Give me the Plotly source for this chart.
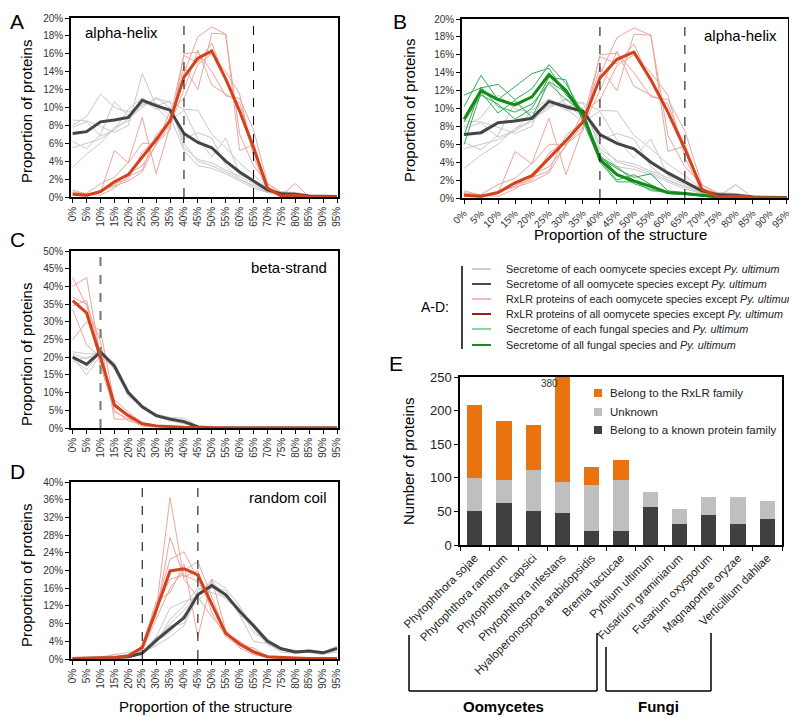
import plotly.graph_objects as go

# The page body has an 8px default margin, so the figure is 8px smaller and
# every pixel coordinate below is shifted accordingly.
OFF = 8
W, H = 797 - OFF, 717 - OFF
def px(x): return (x - OFF) / W
def py(y): return 1 - (y - OFF) / H

FONT = "Arial, Liberation Sans, sans-serif"

# ---------------- data ----------------
x_labels = ["0%", "5%", "10%", "15%", "20%", "25%", "30%", "35%", "40%", "45%",
            "50%", "55%", "60%", "65%", "70%", "75%", "80%", "85%", "90%", "95%"]

# alpha-helix (A, B)
helix_oom_each = [
    [8.6, 8.5, 7.9, 7.2, 8.0, 13.8, 10.2, 10.7, 5.5, 4.2, 3.8, 3.0, 2.3, 1.5, 0.6, 0.3, 0.2, 0.1, 0, 0],
    [8.0, 9.0, 11.5, 10.0, 9.5, 10.2, 11.0, 10.6, 9.8, 9.7, 7.0, 5.5, 3.8, 2.5, 1.0, 0.5, 0.4, 0.1, 0, 0],
    [6.2, 5.4, 7.0, 10.7, 9.0, 10.8, 9.8, 10.0, 6.5, 7.2, 6.6, 3.5, 2.0, 1.2, 0.6, 0.3, 0.2, 0.1, 0, 0],
    [5.5, 6.0, 6.5, 7.5, 8.8, 10.0, 11.1, 10.0, 6.0, 4.0, 3.5, 2.8, 2.0, 1.3, 0.5, 0.3, 0.2, 0.1, 0, 0],
    [3.3, 4.8, 6.0, 7.8, 8.5, 10.4, 10.5, 9.0, 5.2, 3.5, 3.2, 2.6, 1.8, 1.0, 0.5, 0.2, 0.1, 0, 0, 0],
    [7.8, 8.4, 6.8, 7.5, 9.8, 11.1, 10.0, 8.5, 9.7, 6.5, 4.5, 6.6, 2.5, 1.8, 0.8, 0.6, 0.5, 0.2, 0, 0],
]
helix_oom_all = [7.1, 7.3, 8.4, 8.6, 8.9, 10.8, 10.2, 9.7, 7.1, 6.1, 5.5, 4.0, 2.8, 1.8, 0.8, 0.35, 0.3, 0.1, 0.05, 0.05]
helix_rxlr_each = [
    [0.8, 0.3, 0.5, 5.2, 3.8, 6.0, 6.0, 7.5, 16.0, 16.2, 14.0, 11.3, 11.0, 7.5, 1.5, 0.3, 0.2, 0, 0, 0],
    [0.5, 0.4, 1.5, 2.2, 3.9, 8.9, 2.6, 7.9, 13.8, 17.9, 19.0, 18.2, 5.2, 5.8, 0.6, 0.2, 1.5, 0, 0, 0],
    [0.6, 0.3, 0.2, 1.0, 2.3, 3.0, 7.0, 8.5, 14.6, 12.0, 18.3, 18.2, 7.0, 3.5, 1.5, 0.5, 0.2, 0, 0, 0],
    [0.3, 0.2, 0.8, 1.2, 1.8, 2.8, 6.0, 8.0, 12.0, 16.4, 12.5, 11.5, 10.5, 5.5, 0.8, 0.3, 0.3, 0, 0, 0],
    [0.2, 0.1, 0.5, 1.5, 2.0, 5.0, 6.5, 8.8, 15.8, 15.0, 17.2, 13.0, 9.5, 6.0, 1.0, 0.2, 0.1, 0, 0, 0],
    [0.4, 0.2, 0.6, 1.3, 2.6, 3.5, 5.8, 9.6, 11.0, 14.8, 16.0, 14.0, 11.5, 4.5, 0.7, 0.1, 0.2, 0, 0, 0],
]
helix_rxlr_all = [0.3, 0.2, 0.6, 1.7, 2.5, 4.4, 6.4, 8.5, 13.4, 15.5, 16.3, 13.2, 9.6, 5.5, 1.0, 0.1, 0.2, 0.05, 0, 0]
helix_fungi_each = [
    [11.5, 12.3, 12.7, 11.0, 12.2, 14.9, 12.8, 9.4, 4.5, 3.3, 2.3, 2.7, 0.8, 0.6, 0.3, 0.1, 0.1, 0, 0, 0],
    [10.2, 13.7, 11.0, 12.5, 13.9, 14.5, 11.5, 9.8, 4.0, 1.8, 1.8, 1.2, 0.6, 0.5, 0.3, 0.1, 0.1, 0, 0, 0],
    [8.5, 11.5, 10.5, 8.8, 10.0, 13.5, 13.2, 8.5, 4.2, 2.0, 2.6, 1.5, 0.5, 0.4, 0.2, 0.1, 0, 0, 0, 0],
    [7.0, 12.4, 10.2, 9.6, 10.5, 12.8, 11.0, 9.6, 4.8, 2.7, 1.6, 1.0, 0.5, 0.4, 0.3, 0.1, 0.1, 0, 0, 0],
    [6.0, 11.8, 9.5, 10.9, 9.0, 13.0, 11.8, 8.9, 4.6, 3.5, 1.9, 0.8, 0.7, 0.5, 0.2, 0.1, 0, 0, 0, 0],
]
helix_fungi_all = [8.8, 12.0, 11.0, 10.4, 11.3, 13.8, 12.0, 9.3, 4.3, 2.6, 1.9, 1.3, 0.6, 0.5, 0.3, 0.1, 0.1, 0.05, 0, 0]

# beta-strand (C)
beta_oom_each = [
    [21.5, 21.0, 21.0, 18.5, 10.5, 6.3, 3.8, 3.0, 2.8, 0.5, 0.1, 0, 0, 0, 0, 0, 0, 0, 0, 0],
    [20.0, 15.0, 20.5, 17.0, 9.5, 5.5, 3.5, 2.5, 1.5, 0.3, 0.1, 0, 0, 0, 0, 0, 0, 0, 0, 0],
    [19.5, 16.5, 21.5, 18.0, 10.0, 6.0, 3.3, 2.3, 1.7, 0.2, 0, 0, 0, 0, 0, 0, 0, 0, 0, 0],
    [18.8, 20.0, 20.0, 17.2, 9.8, 6.2, 3.2, 2.0, 1.2, 0.3, 0, 0, 0, 0, 0, 0, 0, 0, 0, 0],
    [21.0, 19.5, 22.0, 16.5, 9.0, 5.8, 4.0, 2.8, 2.0, 0.4, 0.1, 0, 0, 0, 0, 0, 0, 0, 0, 0],
    [20.5, 17.5, 21.0, 17.8, 10.3, 6.5, 3.6, 2.7, 2.2, 0.3, 0, 0, 0, 0, 0, 0, 0, 0, 0, 0],
]
beta_oom_all = [20.0, 18.0, 21.5, 17.5, 10.0, 6.0, 3.5, 2.5, 1.8, 0.3, 0.1, 0, 0, 0, 0, 0, 0, 0, 0, 0]
beta_rxlr_each = [
    [42.5, 34.5, 24.5, 2.5, 2.5, 0.5, 0.3, 0.1, 0, 0, 0, 0, 0, 0, 0, 0, 0, 0, 0, 0],
    [40.0, 42.5, 20.0, 6.0, 3.0, 1.0, 0.5, 0.2, 0, 0, 0, 0, 0, 0, 0, 0, 0, 0, 0, 0],
    [33.5, 23.5, 20.0, 8.0, 4.5, 1.5, 0.5, 0.2, 0, 0, 0, 0, 0, 0, 0, 0, 0, 0, 0, 0],
    [25.0, 30.0, 27.5, 7.0, 3.5, 1.5, 0.8, 0.3, 0.1, 0, 0, 0, 0, 0, 0, 0, 0, 0, 0, 0],
    [37.0, 35.0, 17.5, 5.0, 2.0, 1.0, 0.4, 0.1, 0, 0, 0, 0, 0, 0, 0, 0, 0, 0, 0, 0],
    [34.5, 36.0, 21.0, 4.5, 2.7, 1.2, 0.5, 0.2, 0, 0, 0, 0, 0, 0, 0, 0, 0, 0, 0, 0],
]
beta_rxlr_all = [36.0, 32.5, 20.0, 6.5, 3.5, 1.2, 0.6, 0.3, 0.2, 0.1, 0, 0, 0, 0, 0, 0, 0, 0, 0, 0]

# random coil (D)
coil_oom_each = [
    [0.1, 0.1, 0.2, 0.5, 1.0, 1.5, 5.0, 11.5, 13.0, 14.0, 17.5, 14.5, 11.0, 8.0, 4.5, 2.5, 1.8, 2.0, 1.5, 3.0],
    [0.1, 0.1, 0.3, 0.4, 0.8, 1.2, 3.5, 9.0, 12.0, 16.0, 15.0, 14.0, 11.5, 6.0, 4.0, 2.0, 2.0, 1.5, 1.2, 2.5],
    [0.0, 0.1, 0.2, 0.3, 0.5, 1.0, 4.8, 7.5, 8.0, 15.5, 17.0, 14.8, 10.0, 4.0, 3.5, 1.5, 1.5, 1.5, 1.0, 2.0],
    [0.1, 0.2, 0.5, 1.0, 1.5, 2.0, 4.0, 6.0, 10.0, 13.0, 16.5, 13.5, 11.0, 8.0, 3.8, 2.3, 1.5, 1.8, 1.3, 1.5],
    [0.1, 0.1, 0.2, 0.3, 0.5, 1.4, 3.0, 5.0, 7.5, 14.5, 18.0, 16.0, 12.0, 7.0, 3.2, 2.0, 1.2, 1.6, 1.4, 2.0],
    [0.1, 0.1, 0.2, 0.2, 0.4, 1.0, 4.0, 8.0, 11.0, 15.0, 16.0, 15.5, 10.0, 7.5, 4.5, 2.5, 1.8, 1.7, 1.5, 2.5],
]
coil_oom_all = [0.1, 0.1, 0.2, 0.3, 0.5, 1.3, 4.2, 6.8, 9.3, 14.5, 16.6, 14.5, 10.8, 7.5, 4.0, 2.3, 1.6, 1.8, 1.4, 2.4]
coil_rxlr_each = [
    [0, 0.1, 0.3, 0.6, 0.8, 2.0, 11.0, 36.5, 18.0, 14.0, 9.5, 6.0, 4.0, 1.5, 0.5, 0.2, 0.1, 0, 0, 0],
    [0, 0.1, 0.2, 0.5, 1.0, 2.5, 10.0, 27.5, 18.5, 20.0, 10.5, 5.0, 3.0, 1.2, 0.3, 0.2, 0.1, 0, 0, 0],
    [0, 0.1, 0.3, 0.3, 0.6, 3.0, 12.0, 22.5, 24.2, 18.0, 12.0, 6.5, 2.5, 1.0, 0.4, 0.2, 0, 0, 0, 0],
    [0, 0.1, 0.2, 1.0, 0.5, 2.0, 9.0, 16.0, 20.0, 22.0, 14.0, 6.0, 3.5, 2.0, 0.5, 0.3, 0.1, 0, 0, 0],
    [0, 0.1, 0.2, 0.4, 0.7, 3.0, 13.0, 15.0, 21.5, 5.0, 18.0, 6.5, 3.2, 2.5, 0.6, 0.3, 0.2, 0, 0, 0],
    [0, 0.1, 0.2, 0.3, 0.6, 2.5, 11.5, 18.0, 19.0, 17.5, 12.5, 5.5, 4.0, 1.8, 0.4, 0.1, 0.1, 0, 0, 0],
]
coil_rxlr_all = [0.1, 0.1, 0.2, 0.3, 0.7, 2.6, 11.0, 19.9, 20.4, 19.0, 12.5, 5.8, 3.4, 1.6, 0.5, 0.3, 0.2, 0.1, 0.1, 0.1]

# E: protein counts
species = ["Phytophthora sojae", "Phytophthora ramorum", "Phytophthora capsici",
           "Phytophthora infestans", "Hyaloperonospora arabidopsidis", "Bremia lactucae",
           "Pythium ultimum", "Fusarium graminiarum", "Fusarium oxysporum",
           "Magnaporthe oryzae", "Verticillium dahliae"]
known_family = [51, 62, 51, 47, 21, 21, 57, 32, 44, 31, 38]
unknown = [49, 35, 60, 47, 68, 76, 22, 21, 27, 40, 28]
rxlr_family = [108, 88, 68, 286, 27, 29, 0, 0, 0, 0, 0]

# ---------------- styles ----------------
C_GRAY_T, C_GRAY = "#c9c9c9", "#454545"
C_PINK_T, C_RED = "#eaa69e", "#d4421b"
C_GRN_T, C_GRN = "#2fae57", "#158a15"
C_ORANGE, C_LGRAY, C_DGRAY = "#e8730f", "#bfbfbf", "#404040"

fig = go.Figure()
xi = list(range(len(x_labels)))

def add_lines(ax, groups):
    for ys, color, width in groups:
        fig.add_trace(go.Scatter(x=xi, y=ys, mode="lines", xaxis="x" + ax, yaxis="y" + ax,
                                 line=dict(color=color, width=width), showlegend=False,
                                 hoverinfo="skip"))

def thin(series, color):
    return [(s, color, 1) for s in series]

add_lines("", thin(helix_oom_each, C_GRAY_T) + thin(helix_rxlr_each, C_PINK_T) +
          [(helix_oom_all, C_GRAY, 3), (helix_rxlr_all, C_RED, 3)])
add_lines("2", thin(helix_oom_each, C_GRAY_T) + thin(helix_rxlr_each, C_PINK_T) +
          thin(helix_fungi_each, C_GRN_T) +
          [(helix_oom_all, C_GRAY, 3), (helix_fungi_all, C_GRN, 3), (helix_rxlr_all, C_RED, 3)])
add_lines("3", thin(beta_oom_each, C_GRAY_T) + thin(beta_rxlr_each, C_PINK_T) +
          [(beta_oom_all, C_GRAY, 3), (beta_rxlr_all, C_RED, 3)])
add_lines("4", thin(coil_oom_each, C_GRAY_T) + thin(coil_rxlr_each, C_PINK_T) +
          [(coil_oom_all, C_GRAY, 3), (coil_rxlr_all, C_RED, 3)])

for vals, color in [(known_family, C_DGRAY), (unknown, C_LGRAY), (rxlr_family, C_ORANGE)]:
    fig.add_trace(go.Bar(x=species, y=vals, marker=dict(color=color, line=dict(width=0)),
                         xaxis="x5", yaxis="y5", showlegend=False))

# ---------------- axes ----------------
tickfont = dict(family=FONT, size=10, color="#333333")

def xline(dom, angle):
    return dict(domain=[px(dom[0]), px(dom[1])], range=[-0.12, 19.07],
                tickmode="array", tickvals=xi, ticktext=x_labels, tickangle=angle,
                ticks="outside", ticklen=4, tickcolor="black", showline=True,
                linecolor="black", linewidth=1.5, mirror=True, showgrid=False,
                zeroline=False, tickfont=tickfont, fixedrange=True)

def yline(dom, top, step, anchor):
    vals = list(range(0, top + 1, step))
    return dict(domain=[py(dom[1]), py(dom[0])], range=[0, top], tickmode="array",
                tickvals=vals, ticktext=[f"{v}%" for v in vals], ticks="outside",
                ticklen=4, tickcolor="black", showline=True, linecolor="black",
                linewidth=1.5, mirror=True, showgrid=False, zeroline=False,
                tickfont=tickfont, anchor=anchor)

fig.update_layout(
    xaxis=dict(xline((71, 338), -90), anchor="y"),
    yaxis=yline((18, 197), 20, 2, "x"),
    xaxis2=dict(xline((462, 788), -45), anchor="y2"),
    yaxis2=yline((19, 198), 20, 2, "x2"),
    xaxis3=dict(xline((71, 338), -90), anchor="y3"),
    yaxis3=yline((251, 428), 50, 5, "x3"),
    xaxis4=dict(xline((71, 338), -90), anchor="y4"),
    yaxis4=yline((482, 659), 40, 4, "x4"),
    xaxis5=dict(domain=[px(460), px(782)], anchor="y5", tickangle=-45, showline=True,
                linecolor="black", linewidth=1.5, mirror=True, ticks="outside",
                tickson="boundaries", ticklen=4, tickcolor="black",
                tickfont=dict(family=FONT, size=11.5, color="#222222")),
    yaxis5=dict(domain=[py(545), py(377)], anchor="x5", range=[0, 250],
                tickvals=[0, 50, 100, 150, 200, 250], showline=True, linecolor="black",
                linewidth=1.5, mirror=True, ticks="outside", ticklen=4, tickcolor="black",
                showgrid=False, zeroline=False,
                tickfont=dict(family=FONT, size=13, color="#222222")),
    barmode="stack", bargap=0.48,
    width=W, height=H, margin=dict(l=0, r=0, t=0, b=0, autoexpand=False),
    plot_bgcolor="white", paper_bgcolor="white",
    font=dict(family=FONT, color="black"),
    showlegend=False,
)

# ---------------- shapes ----------------
shapes = []
def vdash(ax, xv, color="black", width=1):
    shapes.append(dict(type="line", xref="x" + ax, yref=("y" + ax) + " domain",
                       x0=xv, x1=xv, y0=0, y1=1,
                       line=dict(color=color, width=width, dash="dash")))
vdash("", 8); vdash("", 13)
vdash("2", 8); vdash("2", 13)
vdash("3", 2, "#777777", 2)
vdash("4", 5); vdash("4", 9)

def pline(x0, y0, x1, y1, color="black", width=1.5):
    shapes.append(dict(type="line", xref="paper", yref="paper", x0=px(x0), y0=py(y0),
                       x1=px(x1), y1=py(y1), line=dict(color=color, width=width)))

# A-D legend
legend_rows = [
    ("Secretome of each oomycete species except <i>Py. ultimum</i>", "#d0d0d0"),
    ("Secretome of all oomycete species except <i>Py. ultimum</i>", "#4a4a4a"),
    ("RxLR proteins of each oomycete species except <i>Py. ultimum</i>", "#f0b9b9"),
    ("RxLR proteins of all oomycete species except <i>Py. ultimum</i>", "#9c1a1a"),
    ("Secretome of each fungal species and <i>Py. ultimum</i>", "#7fdc9c"),
    ("Secretome of all fungal species and <i>Py. ultimum</i>", "#1a8a1a"),
]
row_y = [269, 284, 299, 314, 329, 345]
pline(462, 266, 462, 349)
annotations = []
for (txt, col), yy in zip(legend_rows, row_y):
    pline(472, yy, 491, yy, col, 2)
    annotations.append(dict(x=px(504), y=py(yy), xref="paper", yref="paper", text=txt,
                            showarrow=False, xanchor="left", yanchor="middle",
                            font=dict(size=10.8, family=FONT, color="#222222")))
annotations.append(dict(x=px(435), y=py(307), xref="paper", yref="paper", text="A-D:",
                        showarrow=False, xanchor="center", yanchor="middle",
                        font=dict(size=14, family=FONT)))

# E legend
e_leg = [("Belong to the RxLR family", C_ORANGE, 393),
         ("Unknown", C_LGRAY, 412),
         ("Belong to a known protein family", C_DGRAY, 430)]
for txt, col, yy in e_leg:
    shapes.append(dict(type="rect", xref="paper", yref="paper", x0=px(594), x1=px(602),
                       y0=py(yy + 4), y1=py(yy - 4), fillcolor=col, line=dict(width=0)))
    annotations.append(dict(x=px(608), y=py(yy), xref="paper", yref="paper", text=txt,
                            showarrow=False, xanchor="left", yanchor="middle",
                            font=dict(size=11.5, family=FONT, color="#222222")))

# Brackets
pline(409, 635, 409, 691); pline(409, 691, 597, 691); pline(597, 691, 597, 633)
pline(606, 647, 606, 691); pline(606, 691, 711, 691); pline(711, 691, 711, 633)

def ann(x, y, text, size, angle=0, anchor="center", bold=False, color="black",
        yanchor="middle"):
    annotations.append(dict(x=px(x), y=py(y), xref="paper", yref="paper",
                            text=f"<b>{text}</b>" if bold else text, showarrow=False,
                            xanchor=anchor, yanchor=yanchor, textangle=angle,
                            font=dict(size=size, family=FONT, color=color)))

ann(503, 706, "Oomycetes", 15, bold=True)
ann(658, 706, "Fungi", 15, bold=True)

# panel letters
ann(17, 8, "A", 21, yanchor="top"); ann(400, 8, "B", 21, yanchor="top")
ann(17, 240, "C", 21); ann(17, 471, "D", 21); ann(396, 363, "E", 21)

# panel labels
ann(83, 33, "alpha-helix", 15, anchor="left")
ann(779, 35, "alpha-helix", 15, anchor="right")
ann(329, 267, "beta-strand", 15, anchor="right")
ann(329, 497, "random coil", 15, anchor="right")

# axis titles
ann(26, 112, "Proportion of proteins", 15, angle=-90)
ann(409, 111, "Proportion of proteins", 15, angle=-90)
ann(26, 355, "Proportion of proteins", 15, angle=-90)
ann(26, 576, "Proportion of proteins", 15, angle=-90)
ann(408, 461, "Number of proteins", 15, angle=-90)
ann(620, 235, "Proportion of the structure", 15)
ann(205, 706, "Proportion of the structure", 15)
ann(549, 384, "380", 10, color="#333333")

fig.update_layout(shapes=shapes, annotations=annotations)
fig.write_html("out.html")
